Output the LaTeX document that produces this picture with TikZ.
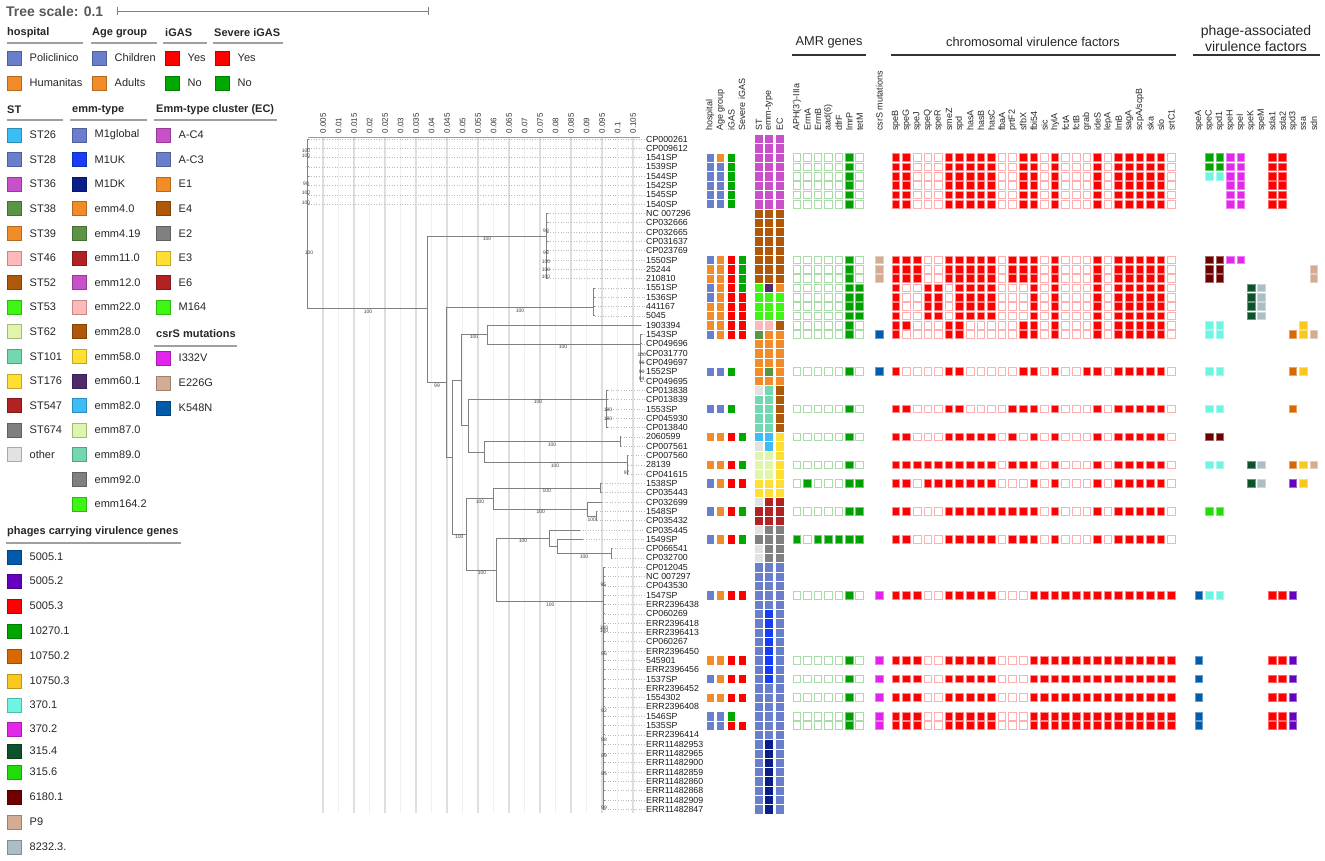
\documentclass[tikz,border=0pt]{standalone}
\usepackage{fontspec}
\setmainfont{Liberation Sans}
\definecolor{cSlate}{RGB}{106,127,204}
\definecolor{cOrange}{RGB}{242,140,40}
\definecolor{cYes}{RGB}{255,0,0}
\definecolor{cNo}{RGB}{0,168,0}
\definecolor{cSky}{RGB}{58,190,245}
\definecolor{cMag}{RGB}{200,80,200}
\definecolor{cOlive}{RGB}{92,148,70}
\definecolor{cPink}{RGB}{255,184,184}
\definecolor{cBrown}{RGB}{176,88,10}
\definecolor{cBGreen}{RGB}{62,245,20}
\definecolor{cPale}{RGB}{222,245,170}
\definecolor{cMint}{RGB}{115,215,175}
\definecolor{cYellow}{RGB}{255,224,50}
\definecolor{cDRed}{RGB}{178,34,34}
\definecolor{cGrey}{RGB}{128,128,128}
\definecolor{cOther}{RGB}{226,226,226}
\definecolor{cMUK}{RGB}{22,62,250}
\definecolor{cMDK}{RGB}{10,30,140}
\definecolor{cPurple}{RGB}{78,42,108}
\definecolor{cIV}{RGB}{225,35,235}
\definecolor{cEG}{RGB}{212,172,148}
\definecolor{cKN}{RGB}{0,92,170}
\definecolor{pA}{RGB}{0,92,170}
\definecolor{pB}{RGB}{100,0,190}
\definecolor{pC}{RGB}{255,0,0}
\definecolor{pD}{RGB}{0,165,0}
\definecolor{pE}{RGB}{215,105,0}
\definecolor{pF}{RGB}{248,200,30}
\definecolor{pG}{RGB}{110,245,225}
\definecolor{pH}{RGB}{225,40,235}
\definecolor{pI}{RGB}{12,82,42}
\definecolor{pJ}{RGB}{34,220,10}
\definecolor{pK}{RGB}{110,0,0}
\definecolor{pL}{RGB}{212,172,148}
\definecolor{pM}{RGB}{170,190,196}
\definecolor{treeg}{RGB}{128,128,128}
\definecolor{gridA}{RGB}{222,222,222}
\definecolor{gridB}{RGB}{240,240,240}
\definecolor{amrG}{RGB}{0,160,0}
\definecolor{amrL}{RGB}{170,220,170}
\definecolor{redL}{RGB}{255,175,175}

\newcommand\myfs[1]{\fontsize{#1}{#1}\selectfont}
\newcommand\hcell[3]{\path[#3] ({#1-3.8},{#2-3.9}) rectangle ({#1+3.8},{#2+3.9});}
\newcommand\amrrow[2]{\pgfmathsetmacro\yy{129.69+9.31*#1}\foreach \v [count=\i from 0] in #2 {\pgfmathsetmacro\xx{797+\i*10.45}\ifnum\v=1 \hcell{\xx}{\yy}{gon}\else\hcell{\xx}{\yy}{goff}\fi}}
\newcommand\chrrow[2]{\pgfmathsetmacro\yy{129.69+9.31*#1}\foreach \v [count=\i from 0] in #2 {\pgfmathsetmacro\xx{896+\i*10.6}\ifnum\v=1 \hcell{\xx}{\yy}{ron}\else\hcell{\xx}{\yy}{roff}\fi}}
\newcommand\csr[2]{\pgfmathsetmacro\yy{129.69+9.31*#1}\hcell{879.5}{\yy}{fill=#2,draw=#2!60!white,line width=0.9pt}}
\newcommand\phrow[2]{\pgfmathsetmacro\yy{129.69+9.31*#1}\foreach \c/\col in {#2} {\pgfmathsetmacro\xx{1199+\c*10.45}\hcell{\xx}{\yy}{fill=\col,draw=\col!60!white,line width=0.9pt}}}
\newcommand\mcell[2]{\path[fill=#2,draw=white,line width=0.7pt] ({#1-4},{\yy-4.66}) rectangle ({#1+4},{\yy+4.66});}
\newcommand\metarow[5]{\pgfmathsetmacro\yy{129.69+9.31*#1}\mcell{710}{#2}\mcell{720.7}{#3}\mcell{731.3}{#4}\mcell{742}{#5}}
\newcommand\scell[2]{\path[fill=#2,draw=white,line width=0.5pt] ({#1-4.4},{\yy-4.66}) rectangle ({#1+4.4},{\yy+4.66});}
\newcommand\striprow[4]{\pgfmathsetmacro\yy{129.69+9.31*#1}\scell{759}{#2}\scell{769}{#3}\scell{779.7}{#4}}
\newcommand\litem[5]{\node[lbox,fill=#4,draw=#4!75!black] (#1-b) at ({#2+7.5},{#3}) {};\node[lt] (#1-t) at ({#2+22.5},{#3}) {#5};}

\def\amrD{0,0,0,0,0,1,0}
\def\amrE{0,0,0,0,0,1,1}
\def\amrF{0,1,0,0,0,1,1}
\def\amrG{1,0,1,1,1,1,1}
\def\patA{1,1,0,0,0,1,1,1,1,1,0,0,1,1,0,1,0,0,0,1,0,1,1,1,1,1,0}
\def\patB{1,1,1,0,0,1,1,1,1,1,0,1,1,1,0,1,0,0,0,1,0,1,1,1,1,1,0}
\def\patC{1,0,0,1,1,0,1,1,1,1,0,0,0,1,0,1,0,0,0,1,0,1,1,1,1,1,0}
\def\patD{1,1,0,0,0,1,1,0,0,0,0,0,1,1,0,1,0,0,0,1,0,1,1,1,1,1,0}
\def\patE{1,0,0,0,0,1,1,0,0,0,0,0,1,1,0,1,0,0,0,1,0,1,1,1,1,1,0}
\def\patF{1,0,0,0,0,1,1,0,0,0,0,0,1,1,0,1,0,0,1,1,0,1,1,1,1,1,0}
\def\patG{1,1,0,0,0,1,1,0,0,0,0,1,1,1,0,1,0,0,0,1,0,1,1,1,1,1,0}
\def\patH{1,1,0,0,0,1,1,1,1,1,0,1,0,1,0,1,0,0,0,1,0,1,1,1,1,1,0}
\def\patI{1,1,1,1,1,1,1,1,1,1,0,1,1,1,0,1,0,0,0,1,0,1,1,1,1,1,0}
\def\patJ{1,1,0,1,1,1,1,1,1,1,0,0,0,1,0,1,0,0,0,1,0,1,1,1,1,1,0}
\def\patK{1,1,0,0,0,1,1,1,1,1,1,1,1,1,0,1,0,0,0,1,0,1,1,1,1,1,0}
\def\patL{1,1,0,0,0,1,1,1,1,1,0,1,1,1,0,1,0,0,0,1,0,1,1,1,1,1,0}
\def\patM{1,1,1,0,0,1,1,1,1,1,0,0,0,1,1,1,1,1,1,1,1,1,1,1,1,1,1}

\begin{document}
\begin{tikzpicture}[x=1pt,y=-1pt,
 tl/.style={draw=treeg,line width=0.9pt},
 dl/.style={draw=gray!55,dotted,line width=0.6pt},
 leaf/.style={anchor=west,inner sep=1.5pt,font=\myfs{8.8},text=black!90},
 bs/.style={inner sep=0,font=\myfs{5},text=black!75},
 hd/.style={anchor=west,inner sep=0,font=\bfseries\myfs{11},text=black!85},
 lt/.style={anchor=west,inner sep=0,font=\myfs{11},text=black!85},
 lbox/.style={minimum size=14pt,inner sep=0,line width=0.8pt},
 ul/.style={draw=gray!75,line width=1.5pt},
 vlab/.style={rotate=90,anchor=west,inner sep=0,font=\myfs{9},text=black!85},
 axlab/.style={rotate=90,anchor=west,inner sep=0,font=\myfs{8},text=black!80},
 grp/.style={inner sep=0,font=\myfs{12.8},text=black!85},
 gl/.style={draw=black!80,line width=1.1pt},
 gon/.style={fill=amrG,draw=amrG!55!white,line width=0.9pt},
 goff/.style={fill=white,draw=amrL,line width=0.9pt},
 ron/.style={fill=red,draw=red!45!white,line width=0.9pt},
 roff/.style={fill=white,draw=redL,line width=0.9pt},
 gA/.style={draw=gridA,line width=1.3pt},
 gB/.style={draw=gridB,line width=1pt}]
\useasboundingbox (0,0) rectangle (1325,861);

% ---------- tree scale ----------
\node[anchor=west,inner sep=0,font=\bfseries\myfs{14},text=black!65] (tscale) at (6,11) {Tree scale: 0.1};
\draw[gray,line width=0.9pt] (117,11) -- (428,11) (117,7) -- (117,15) (428,7) -- (428,15);

% ---------- legends ----------
\node[hd] (hHosp) at (7,33) {hospital};
\node[hd] (hAge) at (92,33) {Age group};
\node[hd] (hIgas) at (165,33) {iGAS};
\node[hd] (hSev) at (214,33) {Severe iGAS};
\draw[ul] (7,43) -- (83,43) (91,43) -- (157,43) (163,43) -- (207,43) (213,43) -- (283,43);
\litem{ho1}{7}{58}{cSlate}{Policlinico}
\litem{ho2}{7}{83}{cOrange}{Humanitas}
\litem{ag1}{92}{58}{cSlate}{Children}
\litem{ag2}{92}{83}{cOrange}{Adults}
\litem{ig1}{165}{58}{cYes}{Yes}
\litem{ig2}{165}{83}{cNo}{No}
\litem{sv1}{215}{58}{cYes}{Yes}
\litem{sv2}{215}{83}{cNo}{No}

\node[hd] (hST) at (7,110) {ST};
\node[hd] (hEmm) at (72,110) {emm-type};
\node[hd] (hEC) at (156,110) {Emm-type cluster (EC)};
\draw[ul] (7,120) -- (63,120) (70,120) -- (147,120) (154,120) -- (277,120);
\foreach \c/\t [count=\i from 0] in {cSky/ST26,cSlate/ST28,cMag/ST36,cOlive/ST38,cOrange/ST39,cPink/ST46,cBrown/ST52,cBGreen/ST53,cPale/ST62,cMint/ST101,cYellow/ST176,cDRed/ST547,cGrey/ST674,cOther/other}
  {\litem{st\i}{7}{135+\i*24.6}{\c}{\t}}
\foreach \c/\t [count=\i from 0] in {cSlate/M1global,cMUK/M1UK,cMDK/M1DK,cOrange/emm4.0,cOlive/emm4.19,cDRed/emm11.0,cMag/emm12.0,cPink/emm22.0,cBrown/emm28.0,cYellow/emm58.0,cPurple/emm60.1,cSky/emm82.0,cPale/emm87.0,cMint/emm89.0,cGrey/emm92.0,cBGreen/emm164.2}
  {\litem{em\i}{72}{135+\i*24.6}{\c}{\t}}
\foreach \c/\t [count=\i from 0] in {cMag/A-C4,cSlate/A-C3,cOrange/E1,cBrown/E4,cGrey/E2,cYellow/E3,cDRed/E6,cBGreen/M164}
  {\litem{ec\i}{156}{135+\i*24.6}{\c}{\t}}
\node[hd] (hCsr) at (156,334) {csrS mutations};
\draw[ul] (154,346) -- (237,346);
\litem{cs1}{156}{358}{cIV}{I332V}
\litem{cs2}{156}{383}{cEG}{E226G}
\litem{cs3}{156}{408}{cKN}{K548N}

\node[hd] (hPh) at (7,532) {phages carrying virulence genes};
\draw[ul] (6,543) -- (181,543);
\foreach \c/\y/\t [count=\i] in {pA/557/5005.1,pB/581/5005.2,pC/606/5005.3,pD/631/10270.1,pE/656/10750.2,pF/681/10750.3,pG/705/370.1,pH/729/370.2,pI/751/315.4,pJ/772/315.6,pK/797/6180.1,pL/822/P9,pM/847/8232.3.}
  {\litem{ph\i}{7}{\y}{\c}{\t}}

% ---------- tree grid & axis ----------
\foreach \i in {1,3,...,21} \draw[gA] ({307.5+\i*15.5},137) -- ({307.5+\i*15.5},813);
\foreach \i in {2,4,...,20} \draw[gB] ({307.5+\i*15.5},137) -- ({307.5+\i*15.5},813);
\draw[draw=gray!80,line width=0.8pt] (307.5,137) -- (640,137);
\foreach \t [count=\i] in {0.005,0.01,0.015,0.02,0.025,0.03,0.035,0.04,0.045,0.05,0.055,0.06,0.065,0.07,0.075,0.08,0.085,0.09,0.095,0.1,0.105}
  \node[axlab] (ax\i) at ({307.5+\i*15.5},133.5) {\t};

% ---------- tips and labels ----------
\foreach \a/\b/\x in {1/8/308.5,9/16/547.5,17/20/595,21/21/641,22/27/641.5,28/32/608,33/34/621,35/37/628,38/39/602,40/40/602,41/42/597,43/43/580,44/44/583.3,45/46/612,47/73/605}
  {\foreach \k in {\a,...,\b} {\coordinate (t\k) at (\x,{129.69+9.31*\k});}}
\foreach \t [count=\k] in {CP000261,CP009612,1541SP,1539SP,1544SP,1542SP,1545SP,1540SP,NC 007296,CP032666,CP032665,CP031637,CP023769,1550SP,25244,210810,1551SP,1536SP,441167,5045,1903394,1543SP,CP049696,CP031770,CP049697,1552SP,CP049695,CP013838,CP013839,1553SP,CP045930,CP013840,2060599,CP007561,CP007560,28139,CP041615,1538SP,CP035443,CP032699,1548SP,CP035432,CP035445,1549SP,CP066541,CP032700,CP012045,NC 007297,CP043530,1547SP,ERR2396438,CP060269,ERR2396418,ERR2396413,CP060267,ERR2396450,545901,ERR2396456,1537SP,ERR2396452,1554302,ERR2396408,1546SP,1535SP,ERR2396414,ERR11482953,ERR11482965,ERR11482900,ERR11482859,ERR11482860,ERR11482868,ERR11482909,ERR11482847}
  {\node[leaf] (L\k) at (644.5,{129.69+9.31*\k}) {\t};
   \draw[dl] (t\k) -- (L\k.west);}

% ---------- tree nodes ----------
\coordinate (R) at (307.5,223.7);
\coordinate (M) at (427,308);
\coordinate (B) at (546,236);
\coordinate (N1) at (446.7,382);
\coordinate (C17) at (593.7,307);
\coordinate (N2) at (452.3,457);
\coordinate (N3) at (461.3,380);
\coordinate (N4) at (487.3,334);
\coordinate (O) at (640,344);
\coordinate (N5) at (468.7,425.7);
\coordinate (P) at (606.7,399.3);
\coordinate (N6) at (484.7,452.3);
\coordinate (Q) at (620,441.7);
\coordinate (S) at (627,462.7);
\coordinate (N7) at (466.3,534);
\coordinate (N8) at (493.7,498.3);
\coordinate (U) at (600.7,488.3);
\coordinate (V) at (587.7,509.3);
\coordinate (W) at (596,516);
\coordinate (N9) at (496.7,570);
\coordinate (N10) at (549,538.3);
\coordinate (N11) at (557.7,546.7);
\coordinate (Y) at (611,553.3);
\coordinate (X) at (603.7,601.7);

\draw[tl] (R) |- (M);
\foreach \k in {1,...,8} \draw[tl] (R) |- (t\k);
\draw[tl] (M) |- (B);
\draw[tl] (M) |- (N1);
\foreach \k in {9,...,16} \draw[tl] (B) |- (t\k);
\draw[tl] (N1) |- (C17);
\draw[tl] (N1) |- (N2);
\foreach \k in {17,...,20} \draw[tl] (C17) |- (t\k);
\draw[tl] (N2) |- (N3);
\draw[tl] (N2) |- (N7);
\draw[tl] (N3) |- (N4);
\draw[tl] (N3) |- (N5);
\draw[tl] (N4) |- (t21);
\draw[tl] (N4) |- (O);
\foreach \k in {22,...,27} \draw[tl] (O) |- (t\k);
\draw[tl] (N5) |- (P);
\draw[tl] (N5) |- (N6);
\foreach \k in {28,...,32} \draw[tl] (P) |- (t\k);
\draw[tl] (N6) |- (Q);
\draw[tl] (N6) |- (S);
\foreach \k in {33,34} \draw[tl] (Q) |- (t\k);
\foreach \k in {35,36,37} \draw[tl] (S) |- (t\k);
\draw[tl] (N7) |- (N8);
\draw[tl] (N7) |- (N9);
\draw[tl] (N8) |- (U);
\draw[tl] (N8) |- (V);
\foreach \k in {38,39} \draw[tl] (U) |- (t\k);
\draw[tl] (V) |- (t40);
\draw[tl] (V) |- (W);
\foreach \k in {41,42} \draw[tl] (W) |- (t\k);
\draw[tl] (N9) |- (N10);
\draw[tl] (N9) |- (X);
\draw[tl] (N10) |- (t43);
\draw[tl] (N10) |- (N11);
\draw[tl] (N11) |- (t44);
\draw[tl] (N11) |- (Y);
\foreach \k in {45,46} \draw[tl] (Y) |- (t\k);
\foreach \k in {47,...,73} \draw[tl] (X) |- (t\k);

% bootstrap values
\foreach \x/\y/\t [count=\i] in {306/151/100,306/156/100,306/184/90,306/193/100,306/203/100,309/253/100,368/312/100,487/239/100,546/231/98,546/253/98,546/262/100,546/270/100,546/277/100,437/386/99,520/311/100,474/337/100,563/347/100,641.7/355/100,641.7/363/96,641.7/371.7/90,641.7/379/94,538/402/100,608/410/100,608/419/100,552/445/100,555/466/100,626.7/472.7/97,480/502/100,546.7/491/100,540.7/512/100,591.7/519.3/100,459.3/537/100,482/572.3/100,523/541/100,584/556.3/100,550.3/604.3/100,603.3/584.3/95,604/627.7/100,604/631/100,604/654/96,604/710.7/92,604/740/98,604/755.7/99,604/774/95,604/807.3/99}
  \node[bs] (bs\i) at (\x,\y) {\t};

% ---------- strip headers ----------
\foreach \x/\t [count=\i] in {710/hospital,720.7/Age group,731.3/iGAS,742/Severe iGAS,759/ST,769/emm-type,779.7/EC}
  \node[vlab] (sh\i) at (\x,131) {\t};

% ---------- metadata ----------
\metarow{3}{cSlate}{cOrange}{cNo}{none}
\foreach \k in {4,...,8} {\metarow{\k}{cSlate}{cSlate}{cNo}{none}}
\metarow{14}{cSlate}{cOrange}{cYes}{cNo}
\metarow{15}{cOrange}{cOrange}{cYes}{cNo}
\metarow{16}{cOrange}{cOrange}{cYes}{cNo}
\metarow{17}{cSlate}{cOrange}{cYes}{cNo}
\metarow{18}{cSlate}{cOrange}{cYes}{cYes}
\metarow{19}{cOrange}{cOrange}{cYes}{cYes}
\metarow{20}{cOrange}{cOrange}{cYes}{cYes}
\metarow{21}{cOrange}{cOrange}{cYes}{cYes}
\metarow{22}{cSlate}{cOrange}{cYes}{cYes}
\metarow{26}{cSlate}{cSlate}{cNo}{none}
\metarow{30}{cSlate}{cSlate}{cNo}{none}
\metarow{33}{cOrange}{cOrange}{cYes}{cNo}
\metarow{36}{cOrange}{cOrange}{cYes}{cNo}
\metarow{38}{cSlate}{cOrange}{cYes}{cYes}
\metarow{41}{cSlate}{cOrange}{cYes}{cNo}
\metarow{44}{cSlate}{cOrange}{cYes}{cNo}
\metarow{50}{cSlate}{cOrange}{cYes}{cYes}
\metarow{57}{cOrange}{cOrange}{cYes}{cYes}
\metarow{59}{cSlate}{cOrange}{cYes}{cYes}
\metarow{61}{cOrange}{cOrange}{cYes}{cYes}
\metarow{63}{cSlate}{cSlate}{cNo}{none}
\metarow{64}{cSlate}{cSlate}{cYes}{cYes}

% ---------- ST / emm / EC strips ----------
\foreach \k in {1,...,8} {\striprow{\k}{cMag}{cMag}{cMag}}
\foreach \k in {9,...,16} {\striprow{\k}{cBrown}{cBrown}{cBrown}}
\striprow{17}{cBGreen}{cPurple}{cOrange}
\foreach \k in {18,19,20} {\striprow{\k}{cBGreen}{cBGreen}{cBGreen}}
\striprow{21}{cPink}{cPink}{cBrown}
\striprow{22}{cOlive}{cOrange}{cOrange}
\foreach \k in {23,24,25,27} {\striprow{\k}{cOrange}{cOrange}{cOrange}}
\striprow{26}{cOrange}{cOlive}{cOrange}
\striprow{28}{cOther}{cMint}{cBrown}
\foreach \k in {29,...,32} {\striprow{\k}{cMint}{cMint}{cBrown}}
\striprow{33}{cSky}{cSky}{cYellow}
\striprow{34}{cOther}{cSky}{cYellow}
\foreach \k in {35,36,37} {\striprow{\k}{cPale}{cPale}{cYellow}}
\foreach \k in {38,39} {\striprow{\k}{cYellow}{cYellow}{cYellow}}
\striprow{40}{cOther}{cDRed}{cDRed}
\foreach \k in {41,42} {\striprow{\k}{cDRed}{cDRed}{cDRed}}
\striprow{43}{cOther}{cGrey}{cGrey}
\striprow{44}{cGrey}{cGrey}{cGrey}
\foreach \k in {45,46} {\striprow{\k}{cOther}{cGrey}{cGrey}}
\foreach \k in {47,...,51} {\striprow{\k}{cSlate}{cSlate}{cSlate}}
\foreach \k in {52,...,59} {\striprow{\k}{cSlate}{cMUK}{cSlate}}
\foreach \k in {60,...,65} {\striprow{\k}{cSlate}{cSlate}{cSlate}}
\foreach \k in {66,...,73} {\striprow{\k}{cSlate}{cMDK}{cSlate}}

% ---------- heatmap headers ----------
\node[grp] (gAMR) at (829,42) {AMR genes};
\draw[gl] (792,55) -- (866,55);
\node[grp] (gChr) at (1033,42) {chromosomal virulence factors};
\draw[gl] (891,55) -- (1176,55);
\node[grp,align=center,font=\fontsize{14}{16}\selectfont] (gPh) at (1256,38) {phage-associated\\virulence factors};
\draw[gl] (1193,55) -- (1320,55);
\foreach \t [count=\i from 0] in {APH(3')-IIIa,ErmA,ErmB,aad(6),dfrF,lmrP,tetM}
  \node[vlab] (ca\i) at ({797+\i*10.45},131) {\t};
\node[vlab] (ccs) at (879.5,131) {csrS mutations};
\foreach \t [count=\i from 0] in {speB,speG,speJ,speQ,speR,smeZ,spd,hasA,hasB,hasC,fbaA,prtF2,sfbX,fbi54,sic,hylA,fctA,fctB,grab,ideS,lepA,lmB,sagA,scpA/scpB,ska,slo,srtC1}
  \node[vlab] (cc\i) at ({896+\i*10.6},131) {\t};
\foreach \t [count=\i from 0] in {speA,speC,spd1,speH,speI,speK,speM,sda1,sda2,spd3,ssa,sdn}
  \node[vlab] (cp\i) at ({1199+\i*10.45},131) {\t};

% ---------- heatmap rows ----------
\foreach \k in {3,...,8} {\amrrow{\k}{\amrD}\chrrow{\k}{\patA}}
\foreach \k in {14,15,16} {\amrrow{\k}{\amrD}\csr{\k}{cEG}\chrrow{\k}{\patB}}
\foreach \k in {17,...,20} {\amrrow{\k}{\amrE}\chrrow{\k}{\patC}}
\amrrow{21}{\amrD}\chrrow{21}{\patD}
\amrrow{22}{\amrD}\csr{22}{cKN}\chrrow{22}{\patE}
\amrrow{26}{\amrD}\csr{26}{cKN}\chrrow{26}{\patF}
\amrrow{30}{\amrD}\chrrow{30}{\patG}
\amrrow{33}{\amrD}\chrrow{33}{\patH}
\amrrow{36}{\amrD}\chrrow{36}{\patI}
\amrrow{38}{\amrF}\chrrow{38}{\patJ}
\amrrow{41}{\amrE}\chrrow{41}{\patK}
\amrrow{44}{\amrG}\chrrow{44}{\patL}
\foreach \k in {50,57,59,61,63,64} {\amrrow{\k}{\amrD}\csr{\k}{cIV}\chrrow{\k}{\patM}}

\phrow{3}{1/pD,2/pD,3/pH,4/pH,7/pC,8/pC}
\phrow{4}{1/pD,2/pD,3/pH,4/pH,7/pC,8/pC}
\phrow{5}{1/pG,2/pG,3/pH,4/pH,7/pC,8/pC}
\foreach \k in {6,7,8} {\phrow{\k}{3/pH,4/pH,7/pC,8/pC}}
\phrow{14}{1/pK,2/pK,3/pH,4/pH}
\phrow{15}{1/pK,2/pK,11/pL}
\phrow{16}{1/pK,2/pK,11/pL}
\foreach \k in {17,...,20} {\phrow{\k}{5/pI,6/pM}}
\phrow{21}{1/pG,2/pG,10/pF}
\phrow{22}{1/pG,2/pG,9/pE,10/pF,11/pL}
\phrow{26}{1/pG,2/pG,9/pE,10/pF}
\phrow{30}{1/pG,2/pG,9/pE}
\phrow{33}{1/pK,2/pK}
\phrow{36}{1/pG,2/pG,5/pI,6/pM,9/pE,10/pF,11/pL}
\phrow{38}{5/pI,6/pM,9/pB,10/pF}
\phrow{41}{1/pJ,2/pJ}
\phrow{50}{0/pA,1/pG,2/pG,7/pC,8/pC,9/pB}
\foreach \k in {57,59,61,63,64} {\phrow{\k}{0/pA,7/pC,8/pC,9/pB}}
\end{tikzpicture}
\end{document}
